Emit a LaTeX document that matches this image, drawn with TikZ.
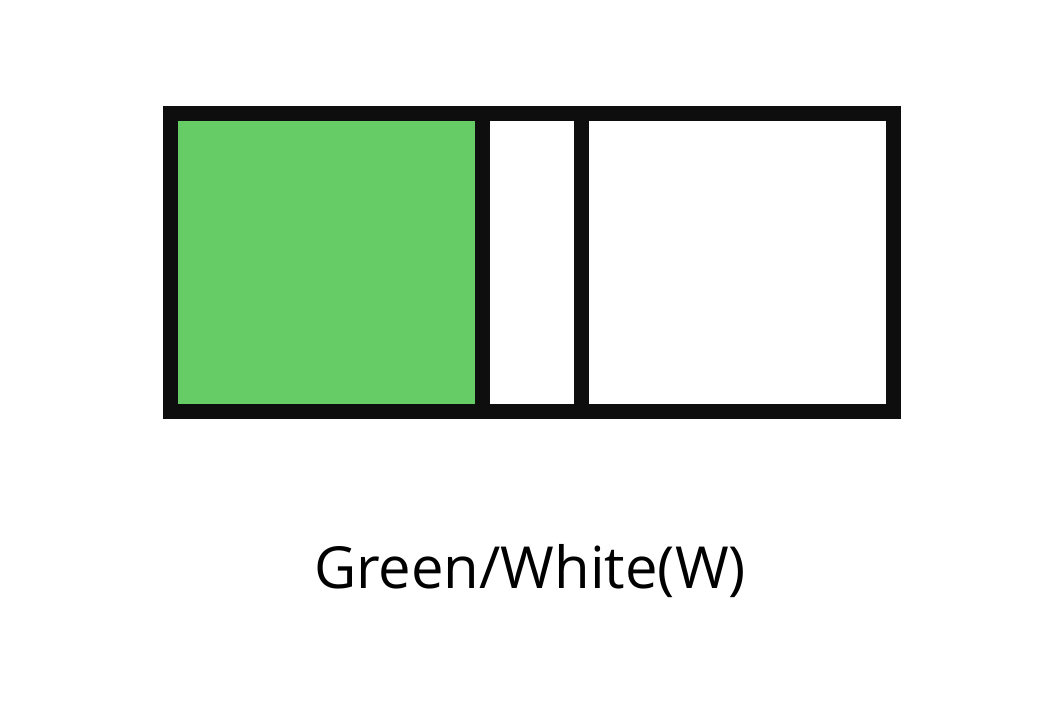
\documentclass[tikz,border=0pt]{standalone}
\usepackage{fontspec}
\setmainfont{Open Sans}
\usetikzlibrary{positioning}
\definecolor{cInk}{HTML}{0E0E0E}
\definecolor{cGreen}{HTML}{66CC66}
\tikzset{
  caption/.style={font=\fontsize{58}{70}\selectfont, text=black, inner sep=0pt, anchor=base},
}
\begin{document}
\begin{tikzpicture}[
  x=1pt, y=-1pt,
  frame/.style={draw=cInk, line width=15pt, line join=miter},
  bar/.style={draw=cInk, line width=15pt},
]
\useasboundingbox (0,0) rectangle (1063,709);
% green cell, then the white cells and the frame
\fill[cGreen] (170,113.5) rectangle (482,411);
\coordinate (tl) at (170,113.5);
\coordinate (br) at (893,411);
\coordinate (d1t) at (482,113.5);
\coordinate (d1b) at (482,411);
\coordinate (d2t) at (581,113.5);
\coordinate (d2b) at (581,411);
\draw[bar] (d1t) -- (d1b);
\draw[bar] (d2t) -- (d2b);
\draw[frame] (tl) rectangle (br);
% label
\node[caption] (lbl) at (530,588) {Green/White(W)};
\end{tikzpicture}
\end{document}
